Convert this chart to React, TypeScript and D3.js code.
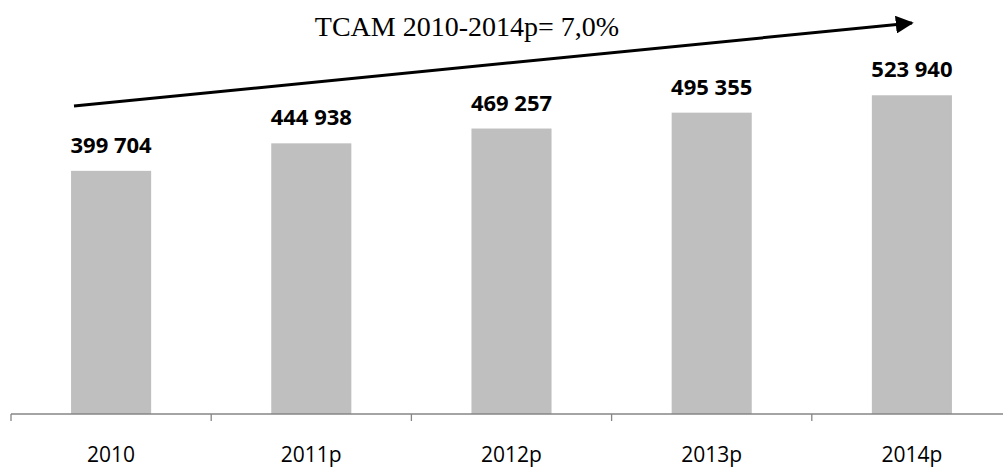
import React from "react";
import * as d3 from "d3";

const categories = ["2010", "2011p", "2012p", "2013p", "2014p"];
const values = [399704, 444938, 469257, 495355, 523940];
const valueLabels = ["399 704", "444 938", "469 257", "495 355", "523 940"];
const title = "TCAM 2010-2014p= 7,0%";

const width = 1003;
const height = 468;
const baseY = 414;

export default function App() {
  const x = d3
    .scaleBand<string>()
    .domain(categories)
    .range([11, 1012])
    .paddingInner(0.6)
    .paddingOuter(0.3);

  const y = d3.scaleLinear().domain([0, 600000]).range([baseY, 49]);

  // category boundaries for tick marks
  const step = x.step();
  const ticks = d3.range(categories.length + 1).map((i) => 11 + i * step);

  return (
    <svg
      width={width}
      height={height}
      style={{ position: "absolute", left: 0, top: 0, background: "#fff" }}
    >
      <defs>
        <marker
          id="arrow"
          viewBox="0 0 10 10"
          refX="9"
          refY="5"
          markerWidth="6"
          markerHeight="6"
          markerUnits="strokeWidth"
          orient="auto"
        >
          <path d="M0,0 L10,5 L0,10 z" fill="#000" />
        </marker>
      </defs>

      {categories.map((c, i) => (
        <rect
          key={c}
          x={x(c)}
          y={y(values[i])}
          width={x.bandwidth()}
          height={baseY - y(values[i])}
          fill="#BFBFBF"
        />
      ))}

      <line x1={11} x2={1003} y1={baseY} y2={baseY} stroke="#868686" strokeWidth={1.3} />
      {ticks.map((t, i) => (
        <line key={i} x1={t} x2={t} y1={baseY} y2={baseY + 7} stroke="#868686" strokeWidth={1.3} />
      ))}

      {categories.map((c, i) => (
        <text
          key={c}
          x={(x(c) || 0) + x.bandwidth() / 2}
          y={y(values[i]) - 18}
          textAnchor="middle"
          fontFamily="'Open Sans', sans-serif"
          fontWeight="bold"
          fontSize={22}
          fill="#000"
        >
          {valueLabels[i]}
        </text>
      ))}

      {categories.map((c) => (
        <text
          key={c}
          x={(x(c) || 0) + x.bandwidth() / 2}
          y={462}
          textAnchor="middle"
          fontFamily="'Open Sans', sans-serif"
          fontSize={21}
          fill="#000"
        >
          {c}
        </text>
      ))}

      <line
        x1={74}
        y1={106}
        x2={912}
        y2={23}
        stroke="#000"
        strokeWidth={3}
        markerEnd="url(#arrow)"
      />
      <text
        x={467}
        y={36}
        textAnchor="middle"
        fontFamily="'Liberation Serif', serif"
        fontSize={28}
        fill="#000"
      >
        {title}
      </text>
    </svg>
  );
}
